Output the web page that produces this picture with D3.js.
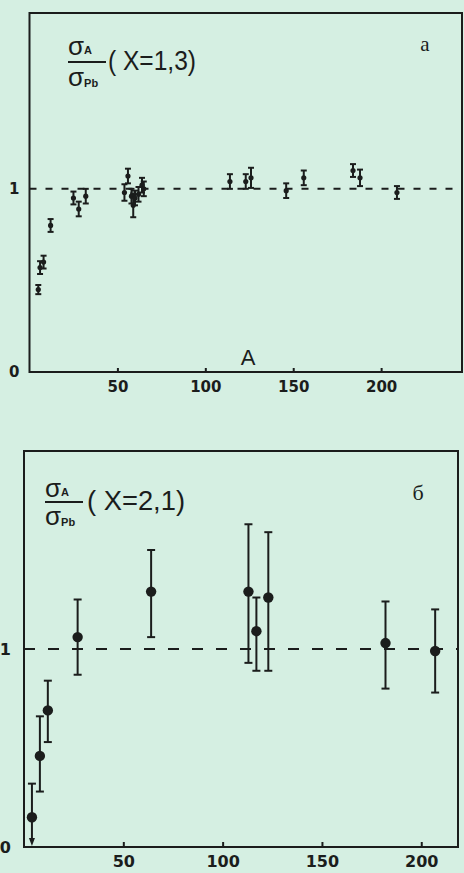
<!DOCTYPE html>
<html><head><meta charset="utf-8">
<script src="https://cdn.jsdelivr.net/npm/d3@7"></script>
<style>
html,body{margin:0;padding:0;background:#d5efe2;}
svg{display:block;}
</style></head>
<body>
<script>
// ---- Data: panel a (X = 1,3) ----
const topA   = [5, 6, 8, 12, 25, 28, 32, 54, 56, 58, 59, 60, 62, 64, 65, 114, 123, 126, 146, 156, 184, 188, 209];
const topVal = [0.45, 0.57, 0.60, 0.80, 0.95, 0.89, 0.96, 0.98, 1.07, 0.96, 0.91, 0.95, 0.97, 1.02, 1.00, 1.04, 1.04, 1.06, 0.99, 1.06, 1.10, 1.06, 0.98];
const topErr = [0.025, 0.035, 0.035, 0.035, 0.035, 0.04, 0.04, 0.045, 0.04, 0.04, 0.065, 0.04, 0.04, 0.04, 0.04, 0.04, 0.04, 0.055, 0.04, 0.04, 0.035, 0.045, 0.035];
const topXTicks = [50, 100, 150, 200];
const topYTicks = [0, 1];

// ---- Data: panel б (X = 2,1) ----
const botA   = [4, 8, 12, 27, 64, 113, 117, 123, 182, 207];
const botVal = [0.15, 0.46, 0.69, 1.06, 1.29, 1.29, 1.09, 1.26, 1.03, 0.99];
const botHi  = [0.32, 0.66, 0.84, 1.25, 1.50, 1.63, 1.26, 1.59, 1.24, 1.20];
const botLo  = [0.00, 0.28, 0.53, 0.87, 1.06, 0.93, 0.89, 0.89, 0.80, 0.78];
const botUpperLimit = [true, false, false, false, false, false, false, false, false, false];
const botXTicks = [50, 100, 150, 200];
const botYTicks = [0, 1];

const ink = "#1b1d1c";
const W = 464, H = 873;
const svg = d3.select("body").append("svg").attr("width", W).attr("height", H);
svg.append("rect").attr("width", W).attr("height", H).attr("fill", "#d5efe2");

function panel(cfg){
  const g = svg.append("g");
  const x = d3.scaleLinear().domain(cfg.xDomain).range([cfg.left, cfg.right]);
  const y = d3.scaleLinear().domain(cfg.yDomain).range([cfg.bottom, cfg.top]);
  g.append("rect").attr("x", cfg.left).attr("y", cfg.top)
    .attr("width", cfg.right - cfg.left).attr("height", cfg.bottom - cfg.top)
    .attr("fill","none").attr("stroke", ink).attr("stroke-width", 2);
  const xa = g.append("g").attr("transform", `translate(0,${cfg.bottom})`)
    .call(d3.axisBottom(x).tickValues(cfg.xTicks).tickSizeInner(-cfg.tick).tickSizeOuter(0).tickPadding(cfg.xPad));
  xa.select(".domain").remove();
  xa.selectAll("line").attr("stroke", ink).attr("stroke-width", 2);
  xa.selectAll("text").attr("fill", ink).attr("font-family","DejaVu Sans").attr("font-weight","bold").attr("font-size", cfg.fs);
  const ya = g.append("g").attr("transform", `translate(${cfg.left},0)`)
    .call(d3.axisLeft(y).tickValues(cfg.yTicks).tickSize(0).tickPadding(cfg.yPad).tickFormat(d3.format("d")));
  ya.select(".domain").remove();
  ya.selectAll("text").attr("fill", ink).attr("font-family","DejaVu Sans").attr("font-weight","bold").attr("font-size", cfg.fs);
  g.append("line").attr("x1", cfg.left).attr("x2", cfg.right)
    .attr("y1", y(1)).attr("y2", y(1))
    .attr("stroke", ink).attr("stroke-width", 2).attr("stroke-dasharray", cfg.dash);
  return {g, x, y};
}

// ---------- Panel a ----------
const P1 = panel({xDomain:[0,246], yDomain:[0,1.96], left:29.5, right:462, top:13, bottom:372,
  xTicks: topXTicks, yTicks: topYTicks, tick:4, xPad:9, yPad:10, fs:15, dash:"7 9"});
const pts1 = topA.map((a,i)=>({a, v:topVal[i], e:topErr[i]}));
const e1 = P1.g.append("g").selectAll("g").data(pts1).join("g");
e1.append("line").attr("x1",d=>P1.x(d.a)).attr("x2",d=>P1.x(d.a))
  .attr("y1",d=>P1.y(d.v+d.e)).attr("y2",d=>P1.y(d.v-d.e)).attr("stroke",ink).attr("stroke-width",2);
e1.append("line").attr("x1",d=>P1.x(d.a)-3).attr("x2",d=>P1.x(d.a)+3)
  .attr("y1",d=>P1.y(d.v+d.e)).attr("y2",d=>P1.y(d.v+d.e)).attr("stroke",ink).attr("stroke-width",2);
e1.append("line").attr("x1",d=>P1.x(d.a)-3).attr("x2",d=>P1.x(d.a)+3)
  .attr("y1",d=>P1.y(d.v-d.e)).attr("y2",d=>P1.y(d.v-d.e)).attr("stroke",ink).attr("stroke-width",2);
e1.append("ellipse").attr("cx",d=>P1.x(d.a)).attr("cy",d=>P1.y(d.v)).attr("rx",2.6).attr("ry",2.6).attr("fill",ink);

function title(x0, yNum, yBar, yDen, label, yLab, parenX, len){
  const t = svg.append("g").attr("fill", ink).attr("font-family","Liberation Sans");
  const n = t.append("text").attr("x", x0).attr("y", yNum).attr("font-size", 26);
  n.append("tspan").text("σ");
  n.append("tspan").attr("font-size", 11).attr("font-weight","bold").attr("dy", -1).text("A");
  t.append("line").attr("x1", x0).attr("x2", x0+38).attr("y1", yBar).attr("y2", yBar).attr("stroke", ink).attr("stroke-width", 2);
  const d = t.append("text").attr("x", x0).attr("y", yDen).attr("font-size", 26);
  d.append("tspan").text("σ");
  d.append("tspan").attr("font-size", 11).attr("font-weight","bold").attr("dy", 1).text("Pb");
  t.append("text").attr("x", parenX).attr("y", yLab).attr("font-size", 28)
    .attr("textLength", len).attr("lengthAdjust","spacingAndGlyphs").text("( X=" + label + ")");
}
title(68, 55, 62, 86, "1,3", 70, 108, 88);
svg.append("text").attr("x", 425).attr("y", 51).attr("text-anchor","middle")
  .attr("font-family","Liberation Serif").attr("font-size", 21).attr("fill", ink).text("a");
svg.append("text").attr("x", 248).attr("y", 365).attr("text-anchor","middle")
  .attr("font-family","Liberation Sans").attr("font-size", 22).attr("fill", ink).text("A");

// ---------- Panel б ----------
const P2 = panel({xDomain:[0,218.5], yDomain:[0,2], left:24, right:458, top:451, bottom:847,
  xTicks: botXTicks, yTicks: botYTicks, tick:5, xPad:9, yPad:13, fs:16, dash:"11 13"});
const pts2 = botA.map((a,i)=>({a, v:botVal[i], hi:botHi[i], lo:botLo[i], lim:botUpperLimit[i]}));
const e2 = P2.g.append("g").selectAll("g").data(pts2).join("g");
e2.append("line").attr("x1",d=>P2.x(d.a)).attr("x2",d=>P2.x(d.a))
  .attr("y1",d=>P2.y(d.hi)).attr("y2",d=>d.lim ? P2.y(d.lo)-8 : P2.y(d.lo))
  .attr("stroke",ink).attr("stroke-width",2);
e2.append("line").attr("x1",d=>P2.x(d.a)-4).attr("x2",d=>P2.x(d.a)+4)
  .attr("y1",d=>P2.y(d.hi)).attr("y2",d=>P2.y(d.hi)).attr("stroke",ink).attr("stroke-width",2);
e2.filter(d=>!d.lim).append("line").attr("x1",d=>P2.x(d.a)-4).attr("x2",d=>P2.x(d.a)+4)
  .attr("y1",d=>P2.y(d.lo)).attr("y2",d=>P2.y(d.lo)).attr("stroke",ink).attr("stroke-width",2);
e2.filter(d=>d.lim).append("path")
  .attr("d",d=>{const cx=P2.x(d.a), cy=P2.y(d.lo); return `M${cx-3},${cy-9} L${cx+3},${cy-9} L${cx},${cy-1} Z`;})
  .attr("fill",ink);
e2.append("circle").attr("cx",d=>P2.x(d.a)).attr("cy",d=>P2.y(d.v)).attr("r",5.2).attr("fill",ink);

title(45, 497, 502, 525, "2,1", 510, 87, 98);
svg.append("text").attr("x", 418).attr("y", 500).attr("text-anchor","middle")
  .attr("font-family","Liberation Serif").attr("font-size", 22).attr("fill", ink).text("б");
</script>
</body></html>
